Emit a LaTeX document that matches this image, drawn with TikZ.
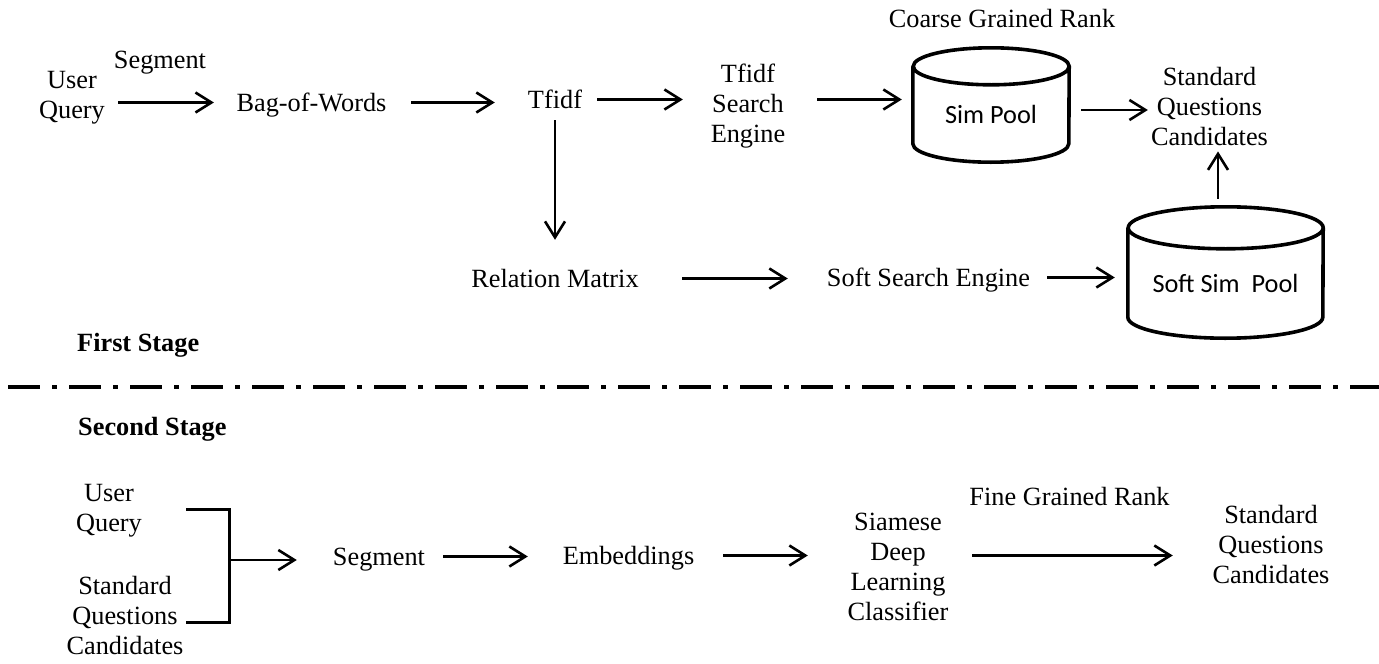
\documentclass[tikz,border=0pt]{standalone}
\usepackage{fontspec}
\setmainfont{Liberation Serif}
\newfontfamily\calib{Carlito}
\usetikzlibrary{arrows.meta}

\newcommand{\txt}{\fontsize{26.3}{30}\selectfont}
% cylinder outline round a pool node: name, x radius, y radius
\newcommand{\drawpool}[3]{%
  \draw[cyl] ([yshift=-#3]#1.north west) -- ([yshift=#3]#1.south west)
    arc[start angle=180, end angle=360, x radius=#2, y radius=#3]
    -- ([yshift=-#3]#1.north east)
    arc[start angle=0, end angle=360, x radius=#2, y radius=#3];}

\begin{document}
\begin{tikzpicture}[x=1pt, y=-1pt,
    lbl/.style={inner sep=0pt, font=\txt, text height=17pt, text depth=0pt},
    stack/.style={inner sep=0pt, font=\txt, align=center},
    pool/.style={inner sep=0pt, font=\calib\txt},
    flow/.style={-{Straight Barb[length=16pt, width=20pt]}, line width=2.6pt},
    cyl/.style={line width=3.6pt},
    bracket/.style={line width=3pt}]

    \useasboundingbox (0,0) rectangle (1379,664);

    % First stage
    \node[stack] (uq1) at (72,98.2) {User\\Query};
    \node[lbl] (seg1) at (160,59.5) {Segment};
    \node[lbl] (bow) at (311.5,102.5) {Bag-of-Words};
    \node[lbl] (tfidf) at (555,99.5) {Tfidf};
    \node[stack] (tse) at (748,105.9) {Tfidf\\Search\\Engine};
    \node[lbl] (coarse) at (1002,18.5) {Coarse Grained Rank};
    \node[pool, minimum width=156pt, minimum height=114pt] (simpool) at (991,105)
        {\raisebox{-18pt}[0pt][0pt]{Sim Pool}};
    \node[stack] (stdq1) at (1209.5,107) {Standard\\Questions\\Candidates};
    \node[lbl] (relmat) at (555,278.5) {Relation Matrix};
    \node[lbl] (sse) at (928.5,277.5) {Soft Search Engine};
    \node[pool, minimum width=195pt, minimum height=131pt] (softpool) at (1225.5,272.5)
        {\raisebox{-19.5pt}[0pt][0pt]{Soft Sim~~Pool}};
    \node[lbl, anchor=west, font=\txt\bfseries] (first) at (77,342.5) {First Stage};

    % Pools
    \drawpool{simpool}{78pt}{18.5pt}
    \drawpool{softpool}{97.5pt}{21pt}

    % First stage arrows
    \draw[flow, shorten <=13pt, shorten >=22.5pt] (uq1.east |- bow) -- (bow.west);
    \draw[flow, shorten <=24.5pt, shorten >=33pt] (bow.east) -- (bow.east -| tfidf.west);
    \draw[flow, shorten <=15pt, shorten >=27.7pt] (tfidf.east) -- (tfidf.east -| tse.west);
    \draw[flow, shorten <=31.7pt, shorten >=11pt] (tse.east |- tfidf) -- (tfidf -| simpool.west);
    \draw[flow, shorten <=12pt, shorten >=3pt] ([yshift=-5pt]simpool.east) -- ([yshift=-5pt]simpool.east -| stdq1.west);
    \draw[flow, shorten <=8pt, shorten >=5pt] ([xshift=8.5pt]stdq1.south |- softpool.north) -- ([xshift=8.5pt]stdq1.south);
    \draw[flow, shorten <=12pt, shorten >=30pt] (tfidf.south) -- (relmat.north);
    \draw[flow, shorten <=43.4pt, shorten >=39pt] (relmat.east) -- (relmat.east -| sse.west);
    \draw[flow, shorten <=17pt, shorten >=13pt] (sse.east) -- (sse.east -| softpool.west);

    % Stage border
    \draw[line width=4.5pt, dash pattern=on 32pt off 12pt on 5pt off 12pt] (8,387) -- (1379,387);

    % Second stage
    \node[lbl, anchor=west, font=\txt\bfseries] (second) at (78,426.5) {Second Stage};
    \node[stack] (uq2) at (109,511.2) {User\\Query};
    \node[stack] (stdq2) at (125,615) {Standard\\Questions\\Candidates};
    \node[lbl] (seg2) at (379,556.5) {Segment};
    \node[lbl] (emb) at (628.5,555.5) {Embeddings};
    \node[stack] (siam) at (898,567) {Siamese\\Deep\\Learning\\Classifier};
    \node[lbl] (fine) at (1069.5,496.5) {Fine Grained Rank};
    \node[stack] (stdq3) at (1271,544) {Standard\\Questions\\Candidates};

    % Second stage arrows
    \coordinate (merge) at (229,560);
    \draw[bracket] ([shift={(44pt,2pt)}]uq2.east) -| (merge) |- ([shift={(2.6pt,-7pt)}]stdq2.east);
    \draw[flow, shorten >=36pt] (merge) -- (merge -| seg2.west);
    \draw[flow, shorten <=18pt, shorten >=34.75pt] (seg2.east) -- (seg2.east -| emb.west);
    \draw[flow, shorten <=28.75pt, shorten >=39.6pt] (emb.east) -- (emb.east -| siam.west);
    \draw[flow, shorten <=23.6pt, shorten >=39.6pt] (siam.east |- emb) -- (emb -| stdq3.west);
\end{tikzpicture}
\end{document}
